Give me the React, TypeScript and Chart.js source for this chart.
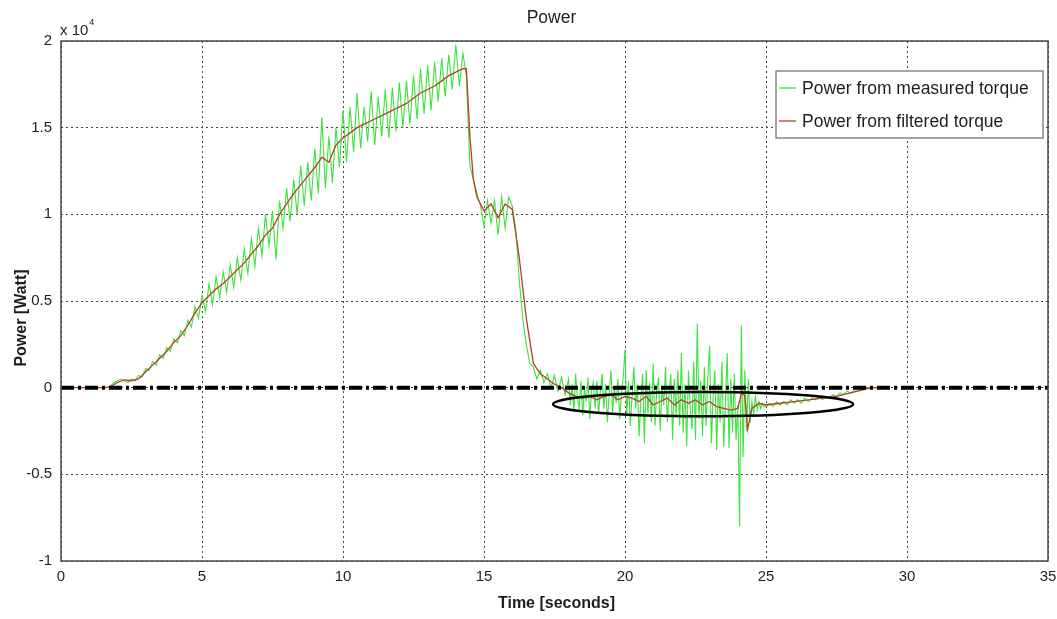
import React, { useEffect, useRef } from "react";
import { Chart, registerables } from "chart.js";

Chart.register(...registerables);

// ---- data (power in units of 10^4 W, time in seconds) ----
const chartTitle = "Power";
const xAxisTitle = "Time [seconds]";
const yAxisTitle = "Power [Watt]";
const yExponent = "4";
const seriesLabels = ["Power from measured torque", "Power from filtered torque"];
const seriesColors = ["#3ee23e", "#b5402a"];

// measured torque power, three uniformly sampled segments
const measuredStartA = 1.0;
const measuredStepA = 0.125;
const measuredPowerA = [
  0, 0, 0, 0, 0, 0, 0.01, 0.03,
  0.04, 0.05, 0.04, 0.03, 0.05, 0.04, 0.07, 0.06,
  0.11, 0.10, 0.15, 0.13, 0.19, 0.17, 0.23, 0.21,
  0.28, 0.26, 0.33, 0.30, 0.39, 0.35, 0.47, 0.40,
  0.53, 0.44, 0.60, 0.48, 0.64, 0.52, 0.67, 0.55,
  0.71, 0.58, 0.75, 0.62, 0.80, 0.66, 0.86, 0.70,
  0.92, 0.76, 1.00, 0.82, 1.02, 0.74, 1.08, 0.92,
  1.15, 0.96, 1.20, 1.00, 1.28, 1.05, 1.30, 1.08,
  1.38, 1.12, 1.56, 1.15, 1.45, 1.18, 1.50, 1.27,
  1.60, 1.30, 1.62, 1.36, 1.70, 1.38, 1.62, 1.42,
  1.71, 1.40, 1.68, 1.45, 1.72, 1.44, 1.73, 1.48,
  1.76, 1.50, 1.77, 1.52, 1.80, 1.55, 1.84, 1.58,
  1.86, 1.60, 1.88, 1.65, 1.90, 1.68, 1.92, 1.72,
  1.98, 1.74, 1.93, 1.80, 1.28, 1.20, 1.12, 1.05,
  0.93, 1.08, 0.95, 1.08, 0.88, 1.10, 0.92, 1.10,
  1.05, 0.92, 0.62, 0.40, 0.25, 0.14, 0.12, 0.05,
  0.10, 0.03, 0.08, 0.00, 0.07, -0.02, 0.06, -0.04,
];
const measuredStartB = 18.0;
const measuredStepB = 0.0625;
const measuredPowerB = [
  0.05, -0.10, 0.02, -0.14, 0.08, -0.06, -0.12, 0.04, -0.16, 0.00, -0.08, 0.06, -0.18, -0.02, 0.03, -0.12,
  0.04, -0.15, -0.02, 0.08, -0.12, 0.02, -0.20, -0.04, 0.10, -0.14, 0.00, -0.09, 0.05, -0.18, -0.03, 0.06,
  0.22, -0.16, 0.04, -0.22, -0.05, 0.12, -0.12, 0.02, -0.28, -0.06, 0.08, -0.32, 0.10, -0.15, 0.03, -0.20,
  0.14, -0.22, -0.02, 0.06, -0.25, 0.00, -0.10, 0.12, -0.20, -0.04, 0.08, -0.30, 0.05, -0.16, 0.10, -0.22,
  0.20, -0.26, 0.02, -0.34, 0.10, -0.12, -0.24, 0.15, -0.30, 0.37, -0.18, 0.04, -0.28, 0.12, -0.22, 0.06,
  0.24, -0.32, -0.05, 0.10, -0.36, 0.02, -0.20, 0.15, -0.34, -0.08, 0.20, -0.35, 0.05, -0.26, 0.08, -0.30,
  -0.10, -0.80, 0.36, -0.40, 0.10, -0.25, 0.05, -0.20, -0.08, -0.15, -0.05, -0.13, -0.08, -0.12, -0.09, -0.11,
];
const measuredStartC = 25.0;
const measuredStepC = 0.125;
const measuredPowerC = [
  -0.11, -0.09, -0.11, -0.08, -0.10, -0.08, -0.10, -0.07,
  -0.09, -0.07, -0.09, -0.06, -0.08, -0.06, -0.07, -0.05,
  -0.07, -0.05, -0.06, -0.04, -0.05, -0.03, -0.04, -0.02,
  -0.03, -0.02, -0.02, -0.01, -0.01, 0.00, 0.00, 0.00,
  0.00,
];

const filteredTime = [
  0, 1, 1.5, 1.75,
  2, 2.25, 2.5, 2.75, 3, 3.25, 3.5, 3.75, 4, 4.25, 4.5, 4.75, 5, 5.25, 5.5, 5.75,
  6, 6.25, 6.5, 6.75, 7, 7.25, 7.5, 7.75, 8, 8.25, 8.5, 8.75, 9, 9.25, 9.5, 9.75,
  10, 10.25, 10.5, 10.75, 11, 11.25, 11.5, 11.75, 12, 12.25, 12.5, 12.75, 13, 13.25, 13.5, 13.75,
  14, 14.25, 14.375, 14.5, 14.625, 14.75,
  15, 15.25, 15.5, 15.75, 16, 16.25, 16.5, 16.75, 17, 17.25, 17.5, 17.75,
  18, 18.25, 18.5, 18.75, 19, 19.25, 19.5, 19.75, 20, 20.25, 20.5, 20.75,
  21, 21.25, 21.5, 21.75, 22, 22.25, 22.5, 22.75, 23, 23.25, 23.5, 23.75, 24,
  24.15, 24.25, 24.35, 24.5, 24.75,
  25, 25.5, 26, 26.5, 27, 27.5, 28, 28.5, 28.75, 29,
];
const filteredPower = [
  0, 0, 0, 0.005,
  0.03, 0.045, 0.04, 0.05, 0.09, 0.13, 0.17, 0.21, 0.26, 0.3, 0.36, 0.43, 0.49, 0.53, 0.57, 0.6,
  0.64, 0.68, 0.72, 0.77, 0.82, 0.88, 0.92, 1.0, 1.06, 1.12, 1.17, 1.22, 1.27, 1.33, 1.3, 1.4,
  1.44, 1.47, 1.5, 1.52, 1.54, 1.56, 1.58, 1.6, 1.62, 1.64, 1.67, 1.7, 1.72, 1.74, 1.77, 1.8,
  1.82, 1.84, 1.84, 1.45, 1.2, 1.1,
  1.02, 1.06, 0.98, 1.06, 1.03, 0.75, 0.4, 0.14, 0.08, 0.05, 0.02, 0.0,
  -0.03, -0.05, -0.06, -0.05, -0.07, -0.05, -0.04, -0.07, -0.05, -0.06, -0.08, -0.05,
  -0.1, -0.08, -0.06, -0.1, -0.07, -0.09, -0.07, -0.1, -0.08, -0.11, -0.12, -0.13, -0.12,
  -0.02, -0.05, -0.24, -0.12, -0.09,
  -0.1, -0.09, -0.08, -0.07, -0.06, -0.05, -0.03, -0.01, 0.0, 0.0,
];

const zeroLineTime = [0, 35];
const zeroLinePower = [0, 0];

const xRange = [0, 35];
const xStep = 5;
const yRange = [-1, 2];
const yStep = 0.5;

// highlighted region (ellipse): centre [time, power], radii [seconds, power]
const ellipseCenter = [22.77, -0.095];
const ellipseRadii = [5.32, 0.07];

const FONT = "'Liberation Sans', Arial, Helvetica, sans-serif";
const TEXT = "#1e1e1e";

const decorPlugin = {
  id: "decor",
  afterDatasetsDraw(chart: any) {
    const { ctx, chartArea: a, scales } = chart;
    const x = scales.x;
    const y = scales.y;
    ctx.save();
    // ellipse annotation
    const cx = x.getPixelForValue(ellipseCenter[0]);
    const cy = y.getPixelForValue(ellipseCenter[1]);
    const rx = Math.abs(x.getPixelForValue(ellipseCenter[0] + ellipseRadii[0]) - cx);
    const ry = Math.abs(y.getPixelForValue(ellipseCenter[1] + ellipseRadii[1]) - cy);
    ctx.beginPath();
    ctx.ellipse(cx, cy, rx, ry, 0, 0, Math.PI * 2);
    ctx.lineWidth = 2.5;
    ctx.strokeStyle = "#000";
    ctx.stroke();

    // axes box
    ctx.lineWidth = 1.5;
    ctx.strokeStyle = "#4a4a4a";
    ctx.strokeRect(a.left, a.top, a.right - a.left, a.bottom - a.top);

    // legend box
    const lw = 267;
    const lh = 67;
    const lx = a.right - 272;
    const ly = a.top + 30;
    ctx.fillStyle = "#ffffff";
    ctx.fillRect(lx, ly, lw, lh);
    ctx.lineWidth = 1.2;
    ctx.strokeStyle = "#6a6a6a";
    ctx.strokeRect(lx, ly, lw, lh);
    ctx.font = `17.5px ${FONT}`;
    ctx.textBaseline = "middle";
    ctx.textAlign = "left";
    seriesLabels.forEach((label, i) => {
      const yy = ly + 17 + i * 33;
      ctx.beginPath();
      ctx.moveTo(lx + 3, yy);
      ctx.lineTo(lx + 20, yy);
      ctx.lineWidth = 1.3;
      ctx.strokeStyle = seriesColors[i];
      ctx.stroke();
      ctx.fillStyle = TEXT;
      ctx.fillText(label, lx + 26, yy + 1);
    });
    ctx.restore();
  },
  afterDraw(chart: any) {
    const { ctx, chartArea: a } = chart;
    ctx.save();
    ctx.fillStyle = TEXT;
    // title
    ctx.font = `17.5px ${FONT}`;
    ctx.textAlign = "center";
    ctx.textBaseline = "middle";
    ctx.fillText(chartTitle, (a.left + a.right) / 2 - 3, 18);
    // x axis title
    ctx.font = `bold 16px ${FONT}`;
    ctx.fillText(xAxisTitle, (a.left + a.right) / 2 + 2, 604);
    // y axis title
    ctx.save();
    ctx.translate(22, 318);
    ctx.rotate(-Math.PI / 2);
    ctx.fillText(yAxisTitle, 0, 0);
    ctx.restore();
    // exponent label
    ctx.textAlign = "left";
    ctx.textBaseline = "alphabetic";
    ctx.font = `15px ${FONT}`;
    ctx.fillText("x 10", a.left - 1, a.top - 6);
    const w = ctx.measureText("x 10").width;
    ctx.font = `9px ${FONT}`;
    ctx.fillText(yExponent, a.left - 1 + w + 1, a.top - 16);
    ctx.restore();
  },
};

export default function App() {
  const ref = useRef<HTMLCanvasElement | null>(null);

  useEffect(() => {
    if (!ref.current) return;
    const measuredData = [
      ...measuredPowerA.map((v, i) => ({ x: measuredStartA + i * measuredStepA, y: v })),
      ...measuredPowerB.map((v, i) => ({ x: measuredStartB + i * measuredStepB, y: v })),
      ...measuredPowerC.map((v, i) => ({ x: measuredStartC + i * measuredStepC, y: v })),
    ];
    const filteredData = filteredTime.map((t, i) => ({ x: t, y: filteredPower[i] }));
    const zeroData = zeroLineTime.map((t, i) => ({ x: t, y: zeroLinePower[i] }));

    const tickFont = { family: FONT, size: 15 };
    const chart = new Chart(ref.current, {
      type: "line",
      data: {
        datasets: [
          {
            label: "zero",
            data: zeroData,
            borderColor: "#000000",
            borderWidth: 4,
            borderDash: [13, 4, 3, 4],
            pointRadius: 0,
            order: 0,
          },
          {
            label: seriesLabels[1],
            data: filteredData,
            borderColor: seriesColors[1],
            borderWidth: 1.3,
            pointRadius: 0,
            tension: 0,
            order: 1,
          },
          {
            label: seriesLabels[0],
            data: measuredData,
            borderColor: seriesColors[0],
            borderWidth: 1.1,
            pointRadius: 0,
            tension: 0,
            order: 2,
          },
        ],
      },
      options: {
        responsive: false,
        animation: false,
        devicePixelRatio: 1,
        parsing: false as any,
        normalized: true,
        layout: { padding: { top: 41, right: 9, left: 0, bottom: 0 } },
        plugins: {
          legend: { display: false },
          title: { display: false },
          tooltip: { enabled: false },
        },
        scales: {
          x: {
            type: "linear",
            min: xRange[0],
            max: xRange[1],
            ticks: { stepSize: xStep, font: tickFont, color: TEXT, padding: 7, maxRotation: 0 },
            grid: { color: "#444444", lineWidth: 1, drawTicks: false },
            border: { display: false, dash: [2, 3] },
            afterFit: (s: any) => {
              s.height = 58;
              s.paddingLeft = 0;
              s.paddingRight = 0;
            },
          },
          y: {
            type: "linear",
            min: yRange[0],
            max: yRange[1],
            ticks: {
              stepSize: yStep,
              font: tickFont,
              color: TEXT,
              padding: 9,
              callback: (v: any) => String(Number(v)),
            },
            grid: { color: "#444444", lineWidth: 1, drawTicks: false },
            border: { display: false, dash: [2, 3] },
            afterFit: (s: any) => {
              s.width = 61;
              s.paddingTop = 0;
              s.paddingBottom = 0;
            },
          },
        },
      } as any,
      plugins: [decorPlugin],
    });
    return () => chart.destroy();
  }, []);

  return (
    <div style={{ position: "absolute", left: 0, top: 0, width: 1057, height: 619, background: "#fff" }}>
      <canvas ref={ref} width={1057} height={619} style={{ display: "block" }} />
    </div>
  );
}
